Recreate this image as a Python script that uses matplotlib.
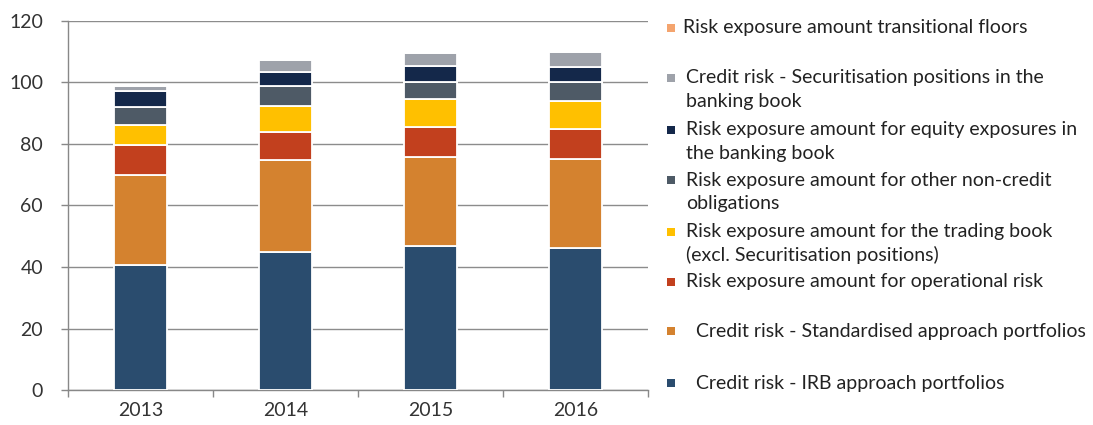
import matplotlib
matplotlib.use("Agg")
import matplotlib.pyplot as plt
from matplotlib.patches import Rectangle
import numpy as np

plt.rcParams['font.family'] = ['Lato', 'DejaVu Sans']

years = ["2013", "2014", "2015", "2016"]

irb = [40.5, 45.0, 46.7, 46.2]
standardised = [29.5, 29.7, 29.1, 29.0]
operational = [9.6, 9.1, 9.6, 9.8]
trading = [6.5, 8.5, 9.1, 9.0]
other_non_credit = [6.0, 6.5, 5.8, 6.1]
equity = [5.1, 4.7, 5.0, 5.0]
securitisation = [1.8, 3.7, 4.4, 4.7]
transitional = [0.0, 0.0, 0.0, 0.0]

series = [
    ("Credit risk - IRB approach portfolios", irb, "#2A4C6E"),
    ("Credit risk - Standardised approach portfolios", standardised, "#D4822F"),
    ("Risk exposure amount for operational risk", operational, "#C2401E"),
    ("Risk exposure amount for the trading book\n(excl. Securitisation positions)", trading, "#FFC000"),
    ("Risk exposure amount for other non-credit\nobligations", other_non_credit, "#4E5A66"),
    ("Risk exposure amount for equity exposures in\nthe banking book", equity, "#14284A"),
    ("Credit risk - Securitisation positions in the\nbanking book", securitisation, "#9EA2AA"),
    ("Risk exposure amount transitional floors", transitional, "#F4A46E"),
]

fig = plt.figure(figsize=(10.93, 4.25), dpi=100)
ax = fig.add_axes([68/1093, 35/425, 580/1093, 369/425])

x = np.arange(len(years))
bottom = np.zeros(len(years))
for label, vals, color in series:
    v = np.array(vals)
    ax.bar(x, v, width=0.37, bottom=bottom, color=color, edgecolor="white",
           linewidth=1.3, zorder=3)
    bottom += v

ax.set_xlim(-0.5, len(years) - 0.5)
ax.set_ylim(0, 120)
ax.set_yticks(np.arange(0, 121, 20))
ax.set_xticks(x)
ax.set_xticklabels(years)
ax.set_xticks(np.arange(-0.5, len(years), 1), minor=True)
ax.tick_params(axis='x', which='major', length=0, labelsize=14, pad=9, colors="#333333")
ax.tick_params(axis='x', which='minor', length=5, color="#888888", width=1)
ax.tick_params(axis='y', length=5, color="#888888", width=1, labelsize=14, pad=13, labelcolor="#333333")
ax.yaxis.grid(True, color="#8C8C8C", linewidth=1, zorder=0)
for s in ["top", "right"]:
    ax.spines[s].set_visible(False)
for s in ["left", "bottom"]:
    ax.spines[s].set_color("#888888")
    ax.spines[s].set_linewidth(1)

# Legend (manual placement, reversed order)
legend_rows = [  # y pixel of first line, x pixel of text
    (28, 683), (78, 686), (130, 686), (180, 686), (232, 686), (282, 686), (331, 696), (383, 696)
]
line_step = 23
for (label, vals, color), (yp, xp) in zip(series[::-1], legend_rows):
    fig.patches.append(Rectangle((667 / 1093, (425 - yp - 4) / 425), 8 / 1093, 8 / 425,
                                 transform=fig.transFigure, facecolor=color, edgecolor="none"))
    for i, line in enumerate(label.split("\n")):
        fig.text(xp / 1093, (425 - yp - i * line_step) / 425, line, fontsize=14,
                 color="#222222", va="center", ha="left")

fig.savefig("out.png", dpi=100, facecolor="white")
